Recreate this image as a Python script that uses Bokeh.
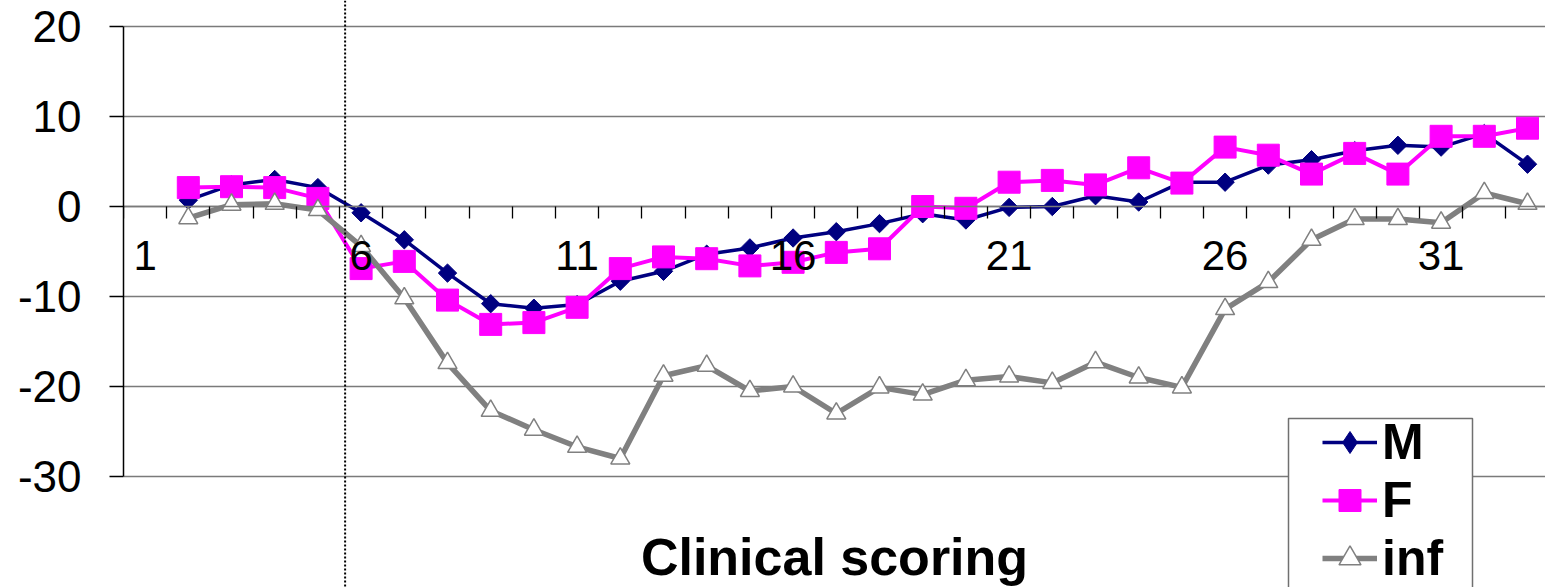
import numpy as np
from bokeh.plotting import figure
from bokeh.models import (Range1d, LinearAxis, FixedTicker, Legend, LegendItem,
                          BoxAnnotation, ColumnDataSource, Span)
from bokeh.embed import file_html
from bokeh.resources import INLINE

# ---------------- data ----------------
categories = list(range(1, 34))
x_tick_labels = ["1", "6", "11", "16", "21", "26", "31"]
y_ticks = [-30, -20, -10, 0, 10, 20]
y_tick_labels = ["-30", "-20", "-10", "0", "10", "20"]
series_names = ["M", "F", "inf"]
x_title = "Clinical scoring"

m_values = [None, 0.7, 2.4, 3.0, 2.1, -0.7, -3.7, -7.4, -10.8, -11.3, -10.9,
            -8.3, -7.2, -5.3, -4.6, -3.5, -2.8, -1.9, -0.8, -1.5, -0.1,
            0.0, 1.2, 0.5, 2.7, 2.7, 4.6, 5.2, 6.2, 6.8, 6.6, 8.1, 4.7]
f_values = [None, 2.1, 2.2, 2.1, 0.9, -6.9, -6.1, -10.4, -13.1, -12.9, -11.2,
            -6.9, -5.6, -5.8, -6.6, -6.2, -5.1, -4.7, 0.0, -0.2, 2.7,
            2.9, 2.4, 4.3, 2.6, 6.6, 5.7, 3.6, 5.9, 3.6, 7.8, 7.8, 8.7]
inf_values = [None, -1.3, 0.2, 0.3, -0.4, -4.4, -10.2, -17.4, -22.7, -24.8, -26.7,
              -28.0, -18.8, -17.7, -20.5, -20.0, -23.0, -20.1, -20.9, -19.3, -18.9,
              -19.6, -17.3, -19.0, -20.1, -11.4, -8.4, -3.7, -1.4, -1.4, -1.8, 1.5, 0.3]
cutoff_position = 5.63

FONT = "Liberation Sans"
NAVY, MAGENTA, GREY = "#000080", "#FF00FF", "#808080"

# ---------------- layout constants ----------------
W, H = 1545, 587
FRAME_LEFT = 123
PX_PER_UNIT = 9.0
ZERO_PX = 206          # vertical pixel position of value 0
CAT_PX = 43.2          # pixel width of one category


def arr(v):
    return np.array([np.nan if a is None else a for a in v], dtype=float)


source = ColumnDataSource(dict(x=categories, M=arr(m_values), F=arr(f_values),
                               inf=arr(inf_values)))

y_top = ZERO_PX / PX_PER_UNIT
y_bottom = -(H - ZERO_PX) / PX_PER_UNIT
x_start = categories[0] - 0.5

p = figure(width=W, height=H, output_backend="svg", toolbar_location=None,
           x_range=Range1d(x_start, x_start + (W - FRAME_LEFT) / CAT_PX),
           y_range=Range1d(y_bottom, y_top),
           x_axis_location=None, y_axis_location="left",
           min_border_left=FRAME_LEFT, min_border_right=0, min_border_top=0,
           min_border_bottom=0)
p.outline_line_color = None
p.background_fill_color = "white"
p.border_fill_color = "white"

# grid
p.xgrid.visible = False
p.ygrid.ticker = FixedTicker(ticks=y_ticks)
p.ygrid.grid_line_color = "#7a7a7a"
p.ygrid.grid_line_width = 1.5

# y axis
ya = p.yaxis[0]
ya.ticker = FixedTicker(ticks=y_ticks)
ya.bounds = (min(y_ticks), max(y_ticks))
ya.major_label_overrides = {t: s for t, s in zip(y_ticks, y_tick_labels)}
ya.major_label_text_font = FONT
ya.major_label_text_font_size = "44px"
ya.major_label_text_color = "black"
ya.major_tick_out = 14
ya.major_tick_in = 0
ya.major_tick_line_color = "black"
ya.major_tick_line_width = 1.5
ya.minor_tick_line_color = None
ya.axis_line_color = "black"
ya.axis_line_width = 1.5
ya.major_label_standoff = 28

# x (category) axis crossing at y = 0
tick_positions = [int(t) for t in x_tick_labels]
boundaries = [c - 0.5 for c in categories] + [categories[-1] + 0.5]
xa = LinearAxis(fixed_location=0,
                ticker=FixedTicker(ticks=tick_positions, minor_ticks=boundaries),
                major_label_overrides={t: s for t, s in zip(tick_positions, x_tick_labels)},
                axis_label=x_title)
xa.axis_line_color = "#7a7a7a"
xa.axis_line_width = 1.5
xa.major_tick_line_color = None
xa.major_tick_out = 0
xa.major_tick_in = 0
xa.minor_tick_line_color = "black"
xa.minor_tick_line_width = 1.3
xa.minor_tick_out = 12
xa.minor_tick_in = 0
xa.major_label_text_font = FONT
xa.major_label_text_font_size = "42px"
xa.major_label_text_color = "black"
xa.major_label_standoff = 22
xa.axis_label_text_font = FONT
xa.axis_label_text_font_size = "52px"
xa.axis_label_text_font_style = "bold"
xa.axis_label_text_color = "black"
xa.axis_label_standoff = 255
p.add_layout(xa, "below")

# series
m_line = p.line("x", "M", source=source, line_color=NAVY, line_width=3.5)
m_pts = p.scatter("x", "M", source=source, marker="square", angle=np.pi / 4, size=13,
                  fill_color=NAVY, line_color=NAVY)
f_line = p.line("x", "F", source=source, line_color=MAGENTA, line_width=4)
f_pts = p.scatter("x", "F", source=source, marker="square", size=22,
                  fill_color=MAGENTA, line_color=MAGENTA)
i_line = p.line("x", "inf", source=source, line_color=GREY, line_width=5.5)
i_pts = p.scatter("x", "inf", source=source, marker="triangle", size=19,
                  fill_color="white", line_color=GREY, line_width=1.5)

# legend-only diamond symbol for M (legend ignores marker rotation); hidden in plot
m_key = p.scatter("x", "M", source=source, marker="diamond", size=21,
                  fill_color=NAVY, line_color=NAVY, visible=False)

# dotted vertical marker line
cut = Span(location=cutoff_position, dimension="height", line_color="black",
           line_width=2, line_dash="2 2", line_alpha=1.0)
p.add_layout(cut)

# legend frame
legend_box = BoxAnnotation(left=1288, right=1472, top=418, bottom=H + 20,
                           left_units="canvas", right_units="canvas",
                           top_units="canvas", bottom_units="canvas",
                           fill_color="white", fill_alpha=1.0,
                           line_color="#707070", line_alpha=1.0, line_width=1.5)
p.add_layout(legend_box)

legend = Legend(items=[LegendItem(label=series_names[0], renderers=[m_line, m_key]),
                       LegendItem(label=series_names[1], renderers=[f_line, f_pts]),
                       LegendItem(label=series_names[2], renderers=[i_line, i_pts])],
                location=(1199, 0), orientation="vertical",
                padding=0, spacing=0, margin=0,
                glyph_width=55, glyph_height=56, label_height=56, label_standoff=5,
                label_text_font=FONT, label_text_font_size="50px",
                label_text_font_style="bold", label_text_color="black",
                border_line_color=None, background_fill_alpha=0)
p.add_layout(legend, "center")

open("out.html", "w").write(file_html(p, INLINE))
